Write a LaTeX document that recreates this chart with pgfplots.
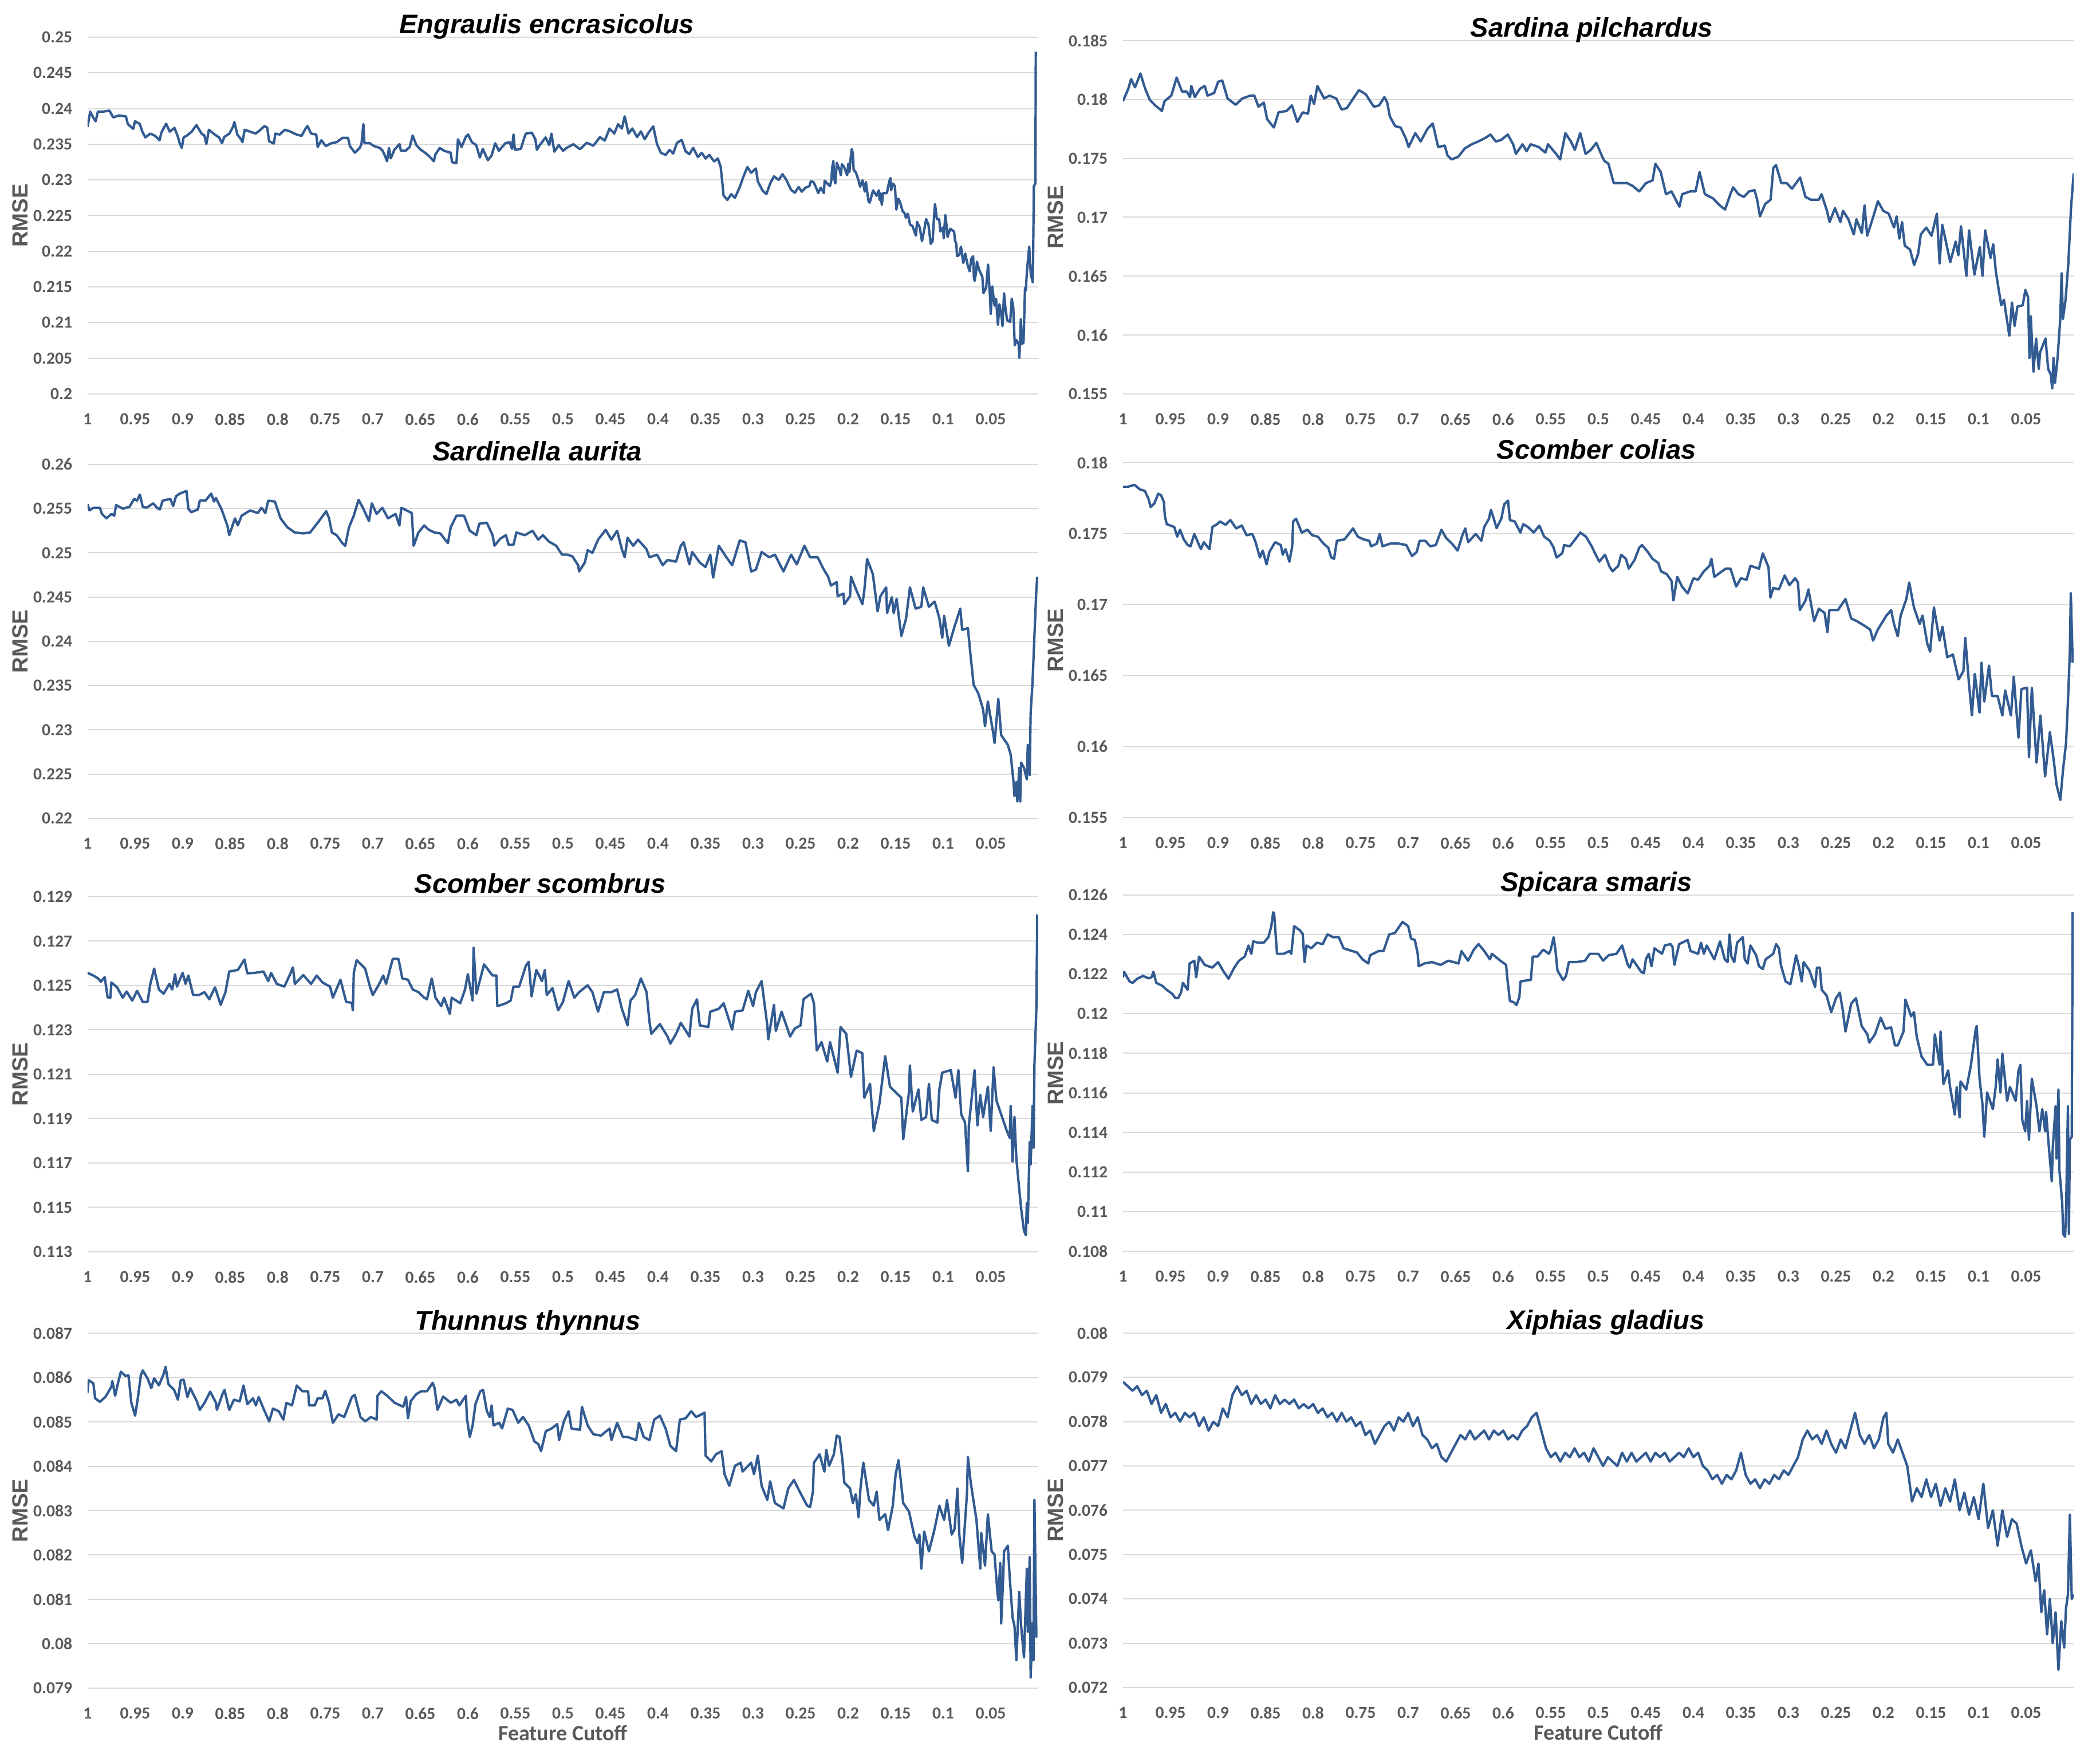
\documentclass[border=0pt]{standalone}
\usepackage{fontspec}
\setmainfont{Carlito}
\newfontfamily\arialfont{Liberation Sans}
\usepackage{pgfplots}
\pgfplotsset{compat=1.18}

\definecolor{linecol}{RGB}{50,91,146}
\definecolor{tickgray}{RGB}{89,89,89}
\definecolor{gridgray}{RGB}{217,217,217}

\pgfplotsset{
  /pgf/number format/assume math mode=true,
  rline/.style={color=linecol, line width=1.05pt, mark=none, line join=round},
  panel/.style={
    scale only axis, width=415pt, height=155pt, anchor=south west,
    xmin=0, xmax=1, x dir=reverse,
    xtick={1,0.95,0.9,0.85,0.8,0.75,0.7,0.65,0.6,0.55,0.5,0.45,0.4,0.35,0.3,0.25,0.2,0.15,0.1,0.05},
    xticklabels={1,0.95,0.9,0.85,0.8,0.75,0.7,0.65,0.6,0.55,0.5,0.45,0.4,0.35,0.3,0.25,0.2,0.15,0.1,0.05},
    axis line style={draw=none}, tick style={draw=none},
    ymajorgrids, major grid style={gridgray, line width=0.5pt},
    scaled y ticks=false,
    yticklabel style={/pgf/number format/fixed, /pgf/number format/precision=3},
    ticklabel style={font=\bfseries\fontsize{7.4}{8}\selectfont, text=tickgray},
    yticklabel shift=3.2pt, xticklabel shift=5.1pt,
    ylabel={RMSE},
    ylabel style={font=\arialfont\bfseries\fontsize{9.6}{11}\selectfont, text=tickgray,
      at={(axis description cs:-0.0711,0.5)}, anchor=center},
    every axis title shift=0pt,
    title style={font=\arialfont\bfseries\itshape\fontsize{11.75}{13}\selectfont,
      anchor=base, yshift=1.5pt},
    xlabel style={font=\bfseries\fontsize{9.5}{11}\selectfont, text=tickgray,
      at={(axis description cs:0.5,0)}, anchor=center, yshift=-19.5pt},
  },
}

\begin{document}
\begin{tikzpicture}
\fill[white] (0,0) rectangle (916.75pt,765.75pt);

% Engraulis encrasicolus
\begin{axis}[panel, at={(38.25pt,593.75pt)}, height=155.75pt,
  ymin=0.2, ymax=0.25,
  ytick={0.2,0.205,0.21,0.215,0.22,0.225,0.23,0.235,0.24,0.245,0.25},
  title={Engraulis encrasicolus}, title style={at={(axis description cs:0.483,1)}}]
\addplot[rline] coordinates {
(1.000,0.23743)(0.9973,0.23957)(0.9931,0.23850)(0.9915,0.23822)(0.9892,0.23957)(0.9839,0.23957)(0.9769,0.23970)(0.9731,0.23876)(0.9673,0.23903)(0.9597,0.23890)(0.9577,0.23783)(0.9520,0.23716)(0.9501,0.23823)(0.9451,0.23783)(0.9424,0.23676)(0.9393,0.23596)(0.9339,0.23649)(0.9289,0.23617)(0.9243,0.23555)(0.9224,0.23663)(0.9174,0.23788)(0.9136,0.23676)(0.9086,0.23729)(0.9051,0.23609)(0.9032,0.23515)(0.9009,0.23448)(0.8990,0.23596)(0.8955,0.23622)(0.8905,0.23676)(0.8855,0.23769)(0.8801,0.23649)(0.8771,0.23622)(0.8751,0.23502)(0.8724,0.23703)(0.8663,0.23636)(0.8617,0.23596)(0.8586,0.23515)(0.8563,0.23601)(0.8509,0.23649)(0.8471,0.23743)(0.8456,0.23810)(0.8425,0.23636)(0.8386,0.23569)(0.8371,0.23529)(0.8348,0.23703)(0.8290,0.23676)(0.8233,0.23649)(0.8194,0.23689)(0.8137,0.23756)(0.8110,0.23729)(0.8091,0.23542)(0.8041,0.23510)(0.8025,0.23649)(0.7979,0.23636)(0.7925,0.23703)(0.7864,0.23676)(0.7802,0.23636)(0.7749,0.23617)(0.7703,0.23729)(0.7687,0.23756)(0.7649,0.23649)(0.7595,0.23636)(0.7580,0.23462)(0.7541,0.23556)(0.7495,0.23475)(0.7434,0.23515)(0.7380,0.23529)(0.7318,0.23590)(0.7261,0.23590)(0.7241,0.23475)(0.7188,0.23381)(0.7138,0.23448)(0.7119,0.23502)(0.7099,0.23783)(0.7088,0.23515)(0.7034,0.23515)(0.6988,0.23475)(0.6926,0.23448)(0.6896,0.23408)(0.6869,0.23328)(0.6850,0.23261)(0.6830,0.23448)(0.6811,0.23301)(0.6773,0.23422)(0.6719,0.23502)(0.6704,0.23408)(0.6657,0.23408)(0.6611,0.23462)(0.6581,0.23622)(0.6542,0.23488)(0.6496,0.23422)(0.6450,0.23381)(0.6404,0.23328)(0.6358,0.23261)(0.6342,0.23355)(0.6296,0.23448)(0.6250,0.23408)(0.6181,0.23381)(0.6166,0.23248)(0.6120,0.23234)(0.6104,0.23569)(0.6066,0.23462)(0.6020,0.23609)(0.5997,0.23636)(0.5958,0.23529)(0.5912,0.23488)(0.5874,0.23314)(0.5843,0.23435)(0.5789,0.23275)(0.5751,0.23341)(0.5712,0.23515)(0.5674,0.23408)(0.5605,0.23515)(0.5559,0.23529)(0.5536,0.23435)(0.5520,0.23636)(0.5505,0.23422)(0.5443,0.23435)(0.5405,0.23596)(0.5390,0.23649)(0.5328,0.23663)(0.5290,0.23569)(0.5274,0.23422)(0.5244,0.23488)(0.5182,0.23596)(0.5144,0.23488)(0.5121,0.23649)(0.5090,0.23395)(0.5044,0.23488)(0.4998,0.23408)
(0.496,0.2345)(0.489,0.2350)(0.482,0.2343)(0.475,0.2352)(0.468,0.2348)(0.461,0.2360)(0.456,0.2355)(0.451,0.2372)(0.446,0.2365)(0.442,0.2378)(0.438,0.2372)(0.435,0.2389)(0.431,0.2365)(0.427,0.2372)(0.422,0.2360)(0.418,0.2368)(0.414,0.2357)(0.410,0.2366)(0.405,0.2375)(0.401,0.2350)(0.397,0.2338)(0.392,0.2335)(0.388,0.2342)(0.384,0.2337)(0.380,0.2352)(0.375,0.2356)(0.371,0.2340)(0.367,0.2336)(0.363,0.2345)(0.358,0.2332)(0.354,0.2338)(0.350,0.2330)(0.346,0.2335)(0.341,0.2326)(0.337,0.2330)(0.334,0.2318)(0.331,0.2278)(0.327,0.2272)(0.323,0.2280)(0.319,0.2275)(0.314,0.2290)(0.310,0.2305)(0.306,0.2318)(0.302,0.2310)(0.297,0.2316)(0.295,0.2298)(0.290,0.2285)(0.286,0.2280)(0.282,0.2295)(0.278,0.2305)(0.273,0.2300)(0.269,0.2308)(0.265,0.2300)(0.260,0.2286)(0.256,0.2282)(0.252,0.2290)
(0.2488,0.22835)(0.2448,0.22892)(0.2408,0.22912)(0.2392,0.22981)(0.2363,0.22969)(0.2331,0.22873)(0.2315,0.22815)(0.2287,0.22892)(0.2255,0.22815)(0.2247,0.22989)(0.2219,0.22950)(0.2191,0.22912)(0.2177,0.22989)(0.2167,0.23173)(0.2155,0.23265)(0.2147,0.23027)(0.2135,0.22950)(0.2119,0.23238)(0.2090,0.23142)(0.2076,0.23065)(0.2066,0.23219)(0.2042,0.23181)(0.2010,0.23065)(0.1998,0.23227)(0.1986,0.23112)(0.1974,0.23296)(0.1962,0.23431)(0.1950,0.23373)(0.1942,0.23142)(0.1918,0.23104)(0.1889,0.22988)(0.1874,0.22904)(0.1849,0.22996)(0.1825,0.22835)(0.1813,0.22969)(0.1785,0.22700)(0.1773,0.22681)(0.1737,0.22854)(0.1701,0.22777)(0.1677,0.22854)(0.1669,0.22719)(0.1661,0.22815)(0.1645,0.22650)(0.1633,0.22815)(0.1592,0.22815)(0.1572,0.22950)(0.1556,0.23027)(0.1548,0.22854)(0.1528,0.22950)(0.1508,0.22912)(0.1492,0.22585)(0.1472,0.22738)(0.1452,0.22681)(0.1428,0.22566)(0.1404,0.22527)(0.1392,0.22469)(0.1372,0.22527)(0.1348,0.22373)(0.1323,0.22354)(0.1287,0.22220)(0.1275,0.22412)(0.1247,0.22335)(0.1223,0.22142)(0.1203,0.22277)(0.1179,0.22450)(0.1155,0.22373)(0.1131,0.22104)(0.1111,0.22142)(0.1095,0.22508)(0.1086,0.22662)(0.1066,0.22450)(0.1042,0.22450)(0.1030,0.22277)(0.1002,0.22335)(0.0994,0.22181)(0.0978,0.22508)(0.0962,0.22335)(0.0954,0.22200)(0.0926,0.22316)(0.0886,0.22277)(0.0874,0.22142)(0.0862,0.22104)(0.0854,0.21931)(0.0830,0.21950)(0.0813,0.22065)(0.0789,0.21835)(0.0769,0.21969)(0.0741,0.21796)(0.0721,0.21719)(0.0705,0.21892)(0.0685,0.21931)(0.0677,0.21642)(0.0669,0.21584)(0.0653,0.21719)(0.0645,0.21854)(0.0621,0.21738)(0.0588,0.21642)(0.0576,0.21412)(0.0548,0.21488)(0.0528,0.21815)(0.0508,0.21373)(0.0500,0.21123)(0.0484,0.21508)(0.0460,0.21239)(0.0444,0.21335)(0.0424,0.20969)(0.0408,0.21258)(0.0384,0.21066)(0.0376,0.20950)(0.0360,0.21412)(0.0343,0.21181)(0.0327,0.21027)(0.0311,0.21027)(0.0295,0.21008)(0.0279,0.21335)(0.0263,0.21219)(0.0247,0.20681)(0.0231,0.20758)(0.0207,0.20700)(0.0199,0.20508)(0.0183,0.21046)(0.0171,0.20700)(0.0155,0.20719)(0.0139,0.21488)(0.0131,0.21450)(0.0119,0.21719)(0.0095,0.22065)(0.0079,0.21681)(0.0058,0.21565)(0.0054,0.21912)(0.0046,0.22912)(0.0030,0.22950)(0.0026,0.24796)
};
\end{axis}

% Sardina pilchardus
\begin{axis}[panel, at={(490.25pt,593.75pt)}, height=154.25pt,
  ymin=0.155, ymax=0.185,
  ytick={0.155,0.16,0.165,0.17,0.175,0.18,0.185},
  title={Sardina pilchardus}, title style={at={(axis description cs:0.493,1)}}]
\addplot[rline] coordinates {
(1.0000,0.17986)(0.9944,0.18092)(0.9915,0.18174)(0.9873,0.18104)(0.9817,0.18221)(0.9767,0.18092)(0.9718,0.17997)(0.9661,0.17950)(0.9591,0.17903)(0.9563,0.17986)(0.9492,0.18033)(0.9436,0.18186)(0.9379,0.18068)(0.9330,0.18068)(0.9295,0.18021)(0.9281,0.18115)(0.9245,0.18021)(0.9189,0.18092)(0.9140,0.18115)(0.9111,0.18033)(0.9041,0.18056)(0.8999,0.18151)(0.8956,0.18162)(0.8900,0.18009)(0.8815,0.17955)(0.8745,0.18009)(0.8660,0.18033)(0.8618,0.18033)(0.8575,0.17939)(0.8519,0.17974)(0.8484,0.17833)(0.8413,0.17762)(0.8364,0.17891)(0.8279,0.17903)(0.8223,0.17950)(0.8166,0.17809)(0.8110,0.17891)(0.8054,0.17880)(0.8025,0.18033)(0.7990,0.17962)(0.7955,0.18115)(0.7884,0.18009)(0.7828,0.18033)(0.7757,0.18009)(0.7701,0.17915)(0.7645,0.17927)(0.7588,0.17997)(0.7518,0.18080)(0.7447,0.18045)(0.7362,0.17939)(0.7306,0.17950)(0.7250,0.18021)(0.7221,0.17974)(0.7193,0.17856)(0.7137,0.17774)(0.7080,0.17762)(0.7024,0.17668)(0.6996,0.17597)(0.6925,0.17715)(0.6869,0.17644)(0.6798,0.17750)(0.6742,0.17797)(0.6685,0.17597)(0.6615,0.17609)(0.6587,0.17526)(0.6544,0.17491)(0.6474,0.17514)(0.6404,0.17585)(0.6333,0.17620)(0.6262,0.17644)(0.6178,0.17679)(0.6135,0.17703)(0.6079,0.17644)(0.6023,0.17656)(0.5952,0.17703)(0.5896,0.17620)(0.5867,0.17538)(0.5797,0.17620)(0.5755,0.17561)(0.5712,0.17620)(0.5628,0.17597)(0.5557,0.17550)(0.5529,0.17620)(0.5444,0.17538)(0.5402,0.17491)(0.5346,0.17715)(0.5289,0.17644)(0.5247,0.17573)(0.5190,0.17715)(0.5134,0.17538)(0.5078,0.17573)(0.5021,0.17632)(0.4965,0.17526)(0.4937,0.17479)(0.4894,0.17455)(0.4838,0.17290)(0.4781,0.17290)(0.4697,0.17290)(0.4640,0.17267)(0.4570,0.17220)(0.4499,0.17290)(0.4429,0.17314)(0.4400,0.17455)(0.4344,0.17385)(0.4288,0.17196)(0.4231,0.17220)(0.4147,0.17090)(0.4118,0.17196)(0.4034,0.17220)(0.3977,0.17220)(0.3935,0.17385)(0.3879,0.17196)(0.3794,0.17161)(0.3724,0.17102)(0.3667,0.17066)(0.3611,0.17196)(0.3582,0.17255)(0.3526,0.17196)(0.3470,0.17173)(0.3413,0.17220)(0.3357,0.17231)(0.3329,0.17149)(0.3300,0.17008)(0.3244,0.17114)(0.3188,0.17149)(0.3159,0.17420)(0.3131,0.17444)(0.3075,0.17290)(0.3018,0.17290)(0.2962,0.17243)(0.2877,0.17338)(0.2821,0.17173)(0.2764,0.17149)(0.2680,0.17149)(0.2652,0.17196)(0.2595,0.17055)(0.2567,0.16960)(0.2511,0.17078)(0.2454,0.16960)(0.2426,0.17055)(0.2370,0.16984)(0.2313,0.16854)(0.2285,0.16984)(0.2228,0.16866)(0.2200,0.17102)(0.2172,0.16843)(0.2116,0.16984)(0.2059,0.17137)(0.2003,0.17055)(0.1946,0.17031)(0.1890,0.16913)(0.1862,0.17008)(0.1834,0.16819)(0.1805,0.16960)(0.1777,0.16760)(0.1721,0.16725)(0.1678,0.16595)(0.1636,0.16689)(0.1608,0.16854)(0.1551,0.16913)(0.1495,0.16843)(0.1439,0.17031)(0.1410,0.16607)(0.1382,0.16937)(0.1326,0.16725)(0.1298,0.16619)(0.1241,0.16795)(0.1213,0.16678)(0.1185,0.16925)(0.1128,0.16501)(0.1100,0.16890)(0.1044,0.16513)(0.0987,0.16748)(0.0959,0.16501)(0.0931,0.16890)(0.0874,0.16654)(0.0846,0.16772)(0.0818,0.16536)(0.0790,0.16395)(0.0762,0.16253)(0.0733,0.16300)(0.0677,0.15994)(0.0649,0.16277)(0.0621,0.16077)(0.0592,0.16242)(0.0536,0.16253)(0.0508,0.16383)(0.0480,0.16324)(0.0465,0.15806)(0.0451,0.16159)(0.0423,0.15688)(0.0395,0.15971)(0.0367,0.15711)(0.0353,0.15853)(0.0296,0.15971)(0.0268,0.15711)(0.0240,0.15664)(0.0226,0.15546)(0.0212,0.15806)(0.0197,0.15593)(0.0169,0.15806)(0.0141,0.16136)(0.0127,0.16524)(0.0113,0.16136)(0.0085,0.16301)(0.0056,0.16607)(0.0028,0.17078)(0.0000,0.17373)
};
\end{axis}

% Sardinella aurita
\begin{axis}[panel, at={(38.25pt,408.5pt)}, height=154.5pt,
  ymin=0.22, ymax=0.26,
  ytick={0.22,0.225,0.23,0.235,0.24,0.245,0.25,0.255,0.26},
  title={Sardinella aurita}, title style={at={(axis description cs:0.473,1)}}]
\addplot[rline] coordinates {
(1.000,0.2555)(0.998,0.2548)(0.994,0.2551)(0.987,0.2551)(0.985,0.2544)(0.980,0.2539)(0.975,0.2544)(0.972,0.2542)(0.970,0.2554)(0.963,0.2550)(0.956,0.2552)(0.951,0.2561)(0.948,0.2559)(0.945,0.2566)(0.942,0.2552)(0.938,0.2551)(0.931,0.2556)(0.927,0.2551)(0.924,0.2549)(0.921,0.2559)(0.913,0.2561)(0.910,0.2553)(0.907,0.2564)(0.903,0.2567)(0.896,0.2570)(0.894,0.2550)(0.891,0.2546)(0.884,0.2549)(0.882,0.2559)(0.876,0.2559)(0.870,0.2567)(0.867,0.2558)(0.865,0.2562)(0.859,0.2549)(0.853,0.2531)(0.851,0.2520)(0.845,0.2539)(0.842,0.2531)(0.838,0.2542)(0.829,0.2548)(0.821,0.2545)(0.817,0.2551)(0.813,0.2545)(0.810,0.2559)(0.803,0.2558)(0.797,0.2539)(0.790,0.2529)(0.782,0.2523)(0.773,0.2522)(0.766,0.2523)(0.758,0.2534)(0.749,0.2547)(0.746,0.2539)(0.743,0.2523)(0.738,0.2520)(0.732,0.2511)(0.729,0.2508)(0.725,0.2529)(0.720,0.2542)(0.715,0.2560)(0.710,0.2550)(0.704,0.2536)(0.701,0.2556)(0.696,0.2544)(0.690,0.2551)(0.684,0.2539)(0.676,0.2544)(0.672,0.2531)(0.670,0.2551)(0.659,0.2545)(0.657,0.2508)(0.652,0.2523)(0.646,0.2531)(0.641,0.2526)(0.635,0.2523)(0.629,0.2522)(0.624,0.2515)(0.621,0.2511)(0.618,0.2529)(0.612,0.2542)(0.604,0.2542)(0.598,0.2525)(0.591,0.2520)(0.588,0.2533)(0.580,0.2534)(0.574,0.2520)(0.572,0.2508)(0.566,0.2516)(0.560,0.2520)(0.557,0.2509)(0.552,0.2509)(0.549,0.2523)(0.540,0.2520)(0.532,0.2525)(0.526,0.2515)(0.521,0.2520)(0.515,0.2513)(0.507,0.2508)(0.501,0.2498)(0.495,0.2498)(0.490,0.2496)(0.484,0.2486)(0.483,0.2479)(0.477,0.2489)(0.474,0.2503)(0.469,0.2500)(0.463,0.2515)(0.455,0.2526)(0.449,0.2515)(0.443,0.2525)(0.438,0.2504)(0.435,0.2495)(0.432,0.2517)(0.426,0.2508)(0.421,0.2515)(0.412,0.2504)(0.409,0.2495)(0.401,0.2498)(0.395,0.2486)(0.390,0.2492)(0.381,0.2490)(0.376,0.2508)(0.373,0.2512)(0.367,0.2487)(0.364,0.2501)(0.356,0.2489)(0.350,0.2484)(0.345,0.2498)(0.342,0.2472)(0.336,0.2508)(0.328,0.2495)(0.322,0.2486)(0.314,0.2514)(0.308,0.2512)(0.302,0.2479)(0.297,0.2481)(0.291,0.2501)(0.283,0.2495)(0.277,0.2498)(0.268,0.2479)(0.260,0.2498)(0.254,0.2487)(0.246,0.2508)(0.240,0.2495)(0.232,0.2495)(0.226,0.2482)(0.221,0.2473)(0.218,0.2463)(0.212,0.2467)(0.211,0.2451)(0.205,0.2454)(0.204,0.2442)(0.198,0.2451)(0.197,0.2473)(0.191,0.2457)(0.185,0.2442)(0.183,0.2457)(0.180,0.2493)(0.174,0.2476)(0.169,0.2434)(0.166,0.2451)(0.160,0.2461)(0.159,0.2432)(0.154,0.2450)(0.152,0.2432)(0.149,0.2448)(0.144,0.2406)(0.139,0.2426)(0.135,0.2461)(0.129,0.2437)(0.123,0.2439)(0.121,0.2461)(0.115,0.2439)(0.109,0.2445)(0.104,0.2426)(0.101,0.2404)(0.099,0.2429)(0.094,0.2395)(0.088,0.2417)(0.082,0.2437)(0.080,0.2413)(0.074,0.2415)(0.071,0.2382)(0.068,0.2351)(0.063,0.2341)(0.058,0.2323)(0.056,0.2304)(0.053,0.2332)(0.047,0.2294)(0.046,0.2285)(0.042,0.2335)(0.039,0.2294)(0.032,0.2283)(0.029,0.2272)(0.026,0.2241)(0.025,0.2225)(0.023,0.2241)(0.022,0.2219)(0.020,0.2257)(0.019,0.2219)(0.018,0.2263)(0.015,0.2257)(0.012,0.2244)(0.011,0.2283)(0.009,0.2249)(0.008,0.2319)(0.006,0.2354)(0.004,0.2407)(0.002,0.2458)(0.001,0.2473)
};
\end{axis}

% Scomber colias
\begin{axis}[panel, at={(490.25pt,408.75pt)}, height=155pt,
  ymin=0.155, ymax=0.18,
  ytick={0.155,0.16,0.165,0.17,0.175,0.18},
  title={Scomber colias}, title style={at={(axis description cs:0.498,1)}}]
\addplot[rline] coordinates {
(1.000,0.17830)(0.995,0.17830)(0.988,0.17844)(0.982,0.17811)(0.977,0.17801)(0.973,0.17742)(0.971,0.17688)(0.967,0.17713)(0.963,0.17781)(0.960,0.17772)(0.957,0.17723)(0.956,0.17625)(0.954,0.17567)(0.946,0.17547)(0.943,0.17479)(0.940,0.17528)(0.936,0.17459)(0.932,0.17420)(0.929,0.17411)(0.925,0.17498)(0.920,0.17420)(0.918,0.17391)(0.915,0.17440)(0.909,0.17391)(0.906,0.17547)(0.901,0.17567)(0.898,0.17586)(0.892,0.17563)(0.887,0.17596)(0.881,0.17537)(0.875,0.17557)(0.870,0.17489)(0.864,0.17498)(0.861,0.17450)(0.856,0.17332)(0.853,0.17381)(0.849,0.17284)(0.846,0.17372)(0.840,0.17440)(0.834,0.17420)(0.832,0.17352)(0.829,0.17391)(0.825,0.17303)(0.822,0.17411)(0.821,0.17586)(0.818,0.17606)(0.812,0.17508)(0.806,0.17528)(0.801,0.17489)(0.795,0.17479)(0.789,0.17430)(0.784,0.17401)(0.781,0.17332)(0.778,0.17323)(0.775,0.17450)(0.767,0.17460)(0.758,0.17537)(0.753,0.17479)(0.747,0.17460)(0.741,0.17450)(0.739,0.17411)(0.733,0.17430)(0.730,0.17498)(0.727,0.17411)(0.719,0.17430)(0.710,0.17430)(0.702,0.17420)(0.696,0.17342)(0.691,0.17372)(0.688,0.17450)(0.682,0.17450)(0.677,0.17411)(0.671,0.17420)(0.665,0.17528)(0.660,0.17469)(0.654,0.17430)(0.648,0.17381)(0.643,0.17489)(0.640,0.17537)(0.637,0.17440)(0.629,0.17498)(0.623,0.17450)(0.620,0.17548)(0.615,0.17606)(0.613,0.17668)(0.610,0.17607)(0.607,0.17539)(0.602,0.17606)(0.599,0.17707)(0.595,0.17733)(0.593,0.17596)(0.588,0.17586)(0.582,0.17508)(0.579,0.17567)(0.574,0.17547)(0.568,0.17508)(0.562,0.17557)(0.557,0.17479)(0.551,0.17450)(0.547,0.17401)(0.544,0.17332)(0.538,0.17362)(0.536,0.17420)(0.530,0.17411)(0.521,0.17489)(0.519,0.17508)(0.513,0.17479)(0.507,0.17411)(0.502,0.17342)(0.499,0.17303)(0.493,0.17352)(0.488,0.17265)(0.485,0.17235)(0.479,0.17274)(0.476,0.17352)(0.471,0.17323)(0.468,0.17254)(0.462,0.17313)(0.457,0.17401)(0.454,0.17420)(0.448,0.17372)(0.443,0.17323)(0.437,0.17294)(0.434,0.17235)(0.428,0.17215)(0.423,0.17167)(0.421,0.17030)(0.417,0.17196)(0.412,0.17128)(0.406,0.17079)(0.400,0.17186)(0.395,0.17176)(0.389,0.17235)(0.383,0.17274)(0.381,0.17323)(0.378,0.17196)(0.372,0.17225)(0.366,0.17254)(0.361,0.17254)(0.355,0.17128)(0.350,0.17186)(0.344,0.17176)(0.340,0.17274)(0.331,0.17254)(0.327,0.17362)(0.321,0.17264)(0.319,0.17050)(0.316,0.17118)(0.310,0.17108)(0.304,0.17206)(0.299,0.17138)(0.293,0.17186)(0.290,0.17157)(0.288,0.16962)(0.282,0.17030)(0.279,0.17108)(0.273,0.16884)(0.268,0.16972)(0.262,0.16942)(0.259,0.16806)(0.257,0.16962)(0.248,0.16962)(0.240,0.17040)(0.234,0.16903)(0.228,0.16884)(0.223,0.16864)(0.214,0.16825)(0.211,0.16747)(0.206,0.16825)(0.197,0.16923)(0.192,0.16962)(0.189,0.16864)(0.185,0.16777)(0.182,0.16923)(0.176,0.17040)(0.173,0.17157)(0.168,0.16981)(0.162,0.16864)(0.159,0.16923)(0.154,0.16727)(0.151,0.16669)(0.147,0.16981)(0.141,0.16747)(0.138,0.16845)(0.133,0.16630)(0.127,0.16649)(0.121,0.16474)(0.116,0.16532)(0.114,0.16767)(0.110,0.16435)(0.107,0.16220)(0.104,0.16513)(0.099,0.16240)(0.097,0.16592)(0.094,0.16318)(0.089,0.16571)(0.086,0.16357)(0.080,0.16357)(0.075,0.16220)(0.072,0.16396)(0.066,0.16220)(0.063,0.16493)(0.058,0.16064)(0.055,0.16406)(0.049,0.16415)(0.047,0.15927)(0.044,0.16415)(0.039,0.15888)(0.035,0.16220)(0.030,0.15791)(0.025,0.16103)(0.021,0.15908)(0.018,0.15732)(0.014,0.15625)(0.011,0.15849)(0.008,0.16025)(0.006,0.16318)(0.004,0.16669)(0.003,0.17080)(0.001,0.16591)
};
\end{axis}

% Scomber scombrus
\begin{axis}[panel, at={(38.25pt,219.25pt)}, height=155pt,
  ymin=0.113, ymax=0.129,
  ytick={0.113,0.115,0.117,0.119,0.121,0.123,0.125,0.127,0.129},
  title={Scomber scombrus}, title style={at={(axis description cs:0.476,1)}}]
\addplot[rline] coordinates {
(1.000,0.12557)(0.994,0.12545)(0.989,0.12532)(0.986,0.12517)(0.982,0.12538)(0.979,0.12447)(0.976,0.12445)(0.975,0.12514)(0.969,0.12492)(0.963,0.12445)(0.959,0.12473)(0.953,0.12432)(0.948,0.12476)(0.942,0.12426)(0.937,0.12426)(0.934,0.12507)(0.930,0.12576)(0.925,0.12482)(0.920,0.12463)(0.914,0.12507)(0.911,0.12482)(0.908,0.12551)(0.906,0.12495)(0.900,0.12557)(0.897,0.12507)(0.894,0.12545)(0.889,0.12457)(0.883,0.12457)(0.877,0.12470)(0.872,0.12438)(0.866,0.12492)(0.860,0.12413)(0.855,0.12470)(0.851,0.12563)(0.842,0.12570)(0.835,0.12617)(0.832,0.12555)(0.824,0.12557)(0.815,0.12563)(0.810,0.12520)(0.807,0.12557)(0.801,0.12507)(0.793,0.12495)(0.787,0.12551)(0.784,0.12582)(0.782,0.12507)(0.773,0.12547)(0.765,0.12507)(0.759,0.12545)(0.753,0.12514)(0.745,0.12495)(0.742,0.12445)(0.734,0.12526)(0.728,0.12426)(0.722,0.12422)(0.721,0.12388)(0.720,0.12557)(0.717,0.12614)(0.708,0.12576)(0.703,0.12495)(0.700,0.12457)(0.694,0.12501)(0.689,0.12545)(0.686,0.12507)(0.679,0.12620)(0.673,0.12620)(0.669,0.12532)(0.663,0.12526)(0.658,0.12482)(0.652,0.12470)(0.646,0.12445)(0.643,0.12438)(0.638,0.12532)(0.634,0.12445)(0.628,0.12407)(0.625,0.12445)(0.619,0.12372)(0.617,0.12445)(0.608,0.12420)(0.603,0.12482)(0.600,0.12551)(0.595,0.12432)(0.594,0.12670)(0.591,0.12463)(0.586,0.12545)(0.583,0.12595)(0.574,0.12545)(0.570,0.12545)(0.569,0.12407)(0.560,0.12420)(0.555,0.12432)(0.552,0.12495)(0.546,0.12495)(0.539,0.12589)(0.536,0.12607)(0.533,0.12451)(0.528,0.12570)(0.522,0.12520)(0.519,0.12570)(0.517,0.12457)(0.511,0.12488)(0.505,0.12388)(0.500,0.12426)(0.494,0.12520)(0.488,0.12445)(0.483,0.12470)(0.474,0.12501)(0.469,0.12470)(0.463,0.12382)(0.457,0.12470)(0.449,0.12470)(0.443,0.12482)(0.438,0.12395)(0.432,0.12320)(0.429,0.12432)(0.424,0.12457)(0.418,0.12532)(0.412,0.12470)(0.409,0.12338)(0.407,0.12282)(0.398,0.12326)(0.390,0.12270)(0.387,0.12238)(0.381,0.12282)(0.376,0.12332)(0.367,0.12270)(0.364,0.12395)(0.359,0.12438)(0.356,0.12320)(0.347,0.12313)(0.345,0.12382)(0.336,0.12395)(0.331,0.12420)(0.322,0.12301)(0.319,0.12382)(0.311,0.12388)(0.305,0.12476)(0.300,0.12407)(0.297,0.12470)(0.291,0.12520)(0.285,0.12320)(0.284,0.12257)(0.278,0.12413)(0.276,0.12295)(0.270,0.12382)(0.261,0.12270)(0.256,0.12307)(0.250,0.12320)(0.247,0.12438)(0.239,0.12463)(0.236,0.12420)(0.233,0.12207)(0.228,0.12245)(0.222,0.12157)(0.219,0.12245)(0.211,0.12107)(0.208,0.12313)(0.202,0.12282)(0.197,0.12088)(0.191,0.12207)(0.185,0.12195)(0.183,0.11994)(0.177,0.12057)(0.173,0.11844)(0.167,0.11969)(0.161,0.12182)(0.156,0.12044)(0.150,0.12019)(0.144,0.11994)(0.142,0.11807)(0.136,0.12019)(0.135,0.12138)(0.132,0.11932)(0.126,0.12032)(0.123,0.11894)(0.118,0.11907)(0.115,0.12057)(0.112,0.11894)(0.106,0.11882)(0.104,0.12032)(0.101,0.12107)(0.092,0.12119)(0.087,0.11994)(0.084,0.12119)(0.081,0.11919)(0.077,0.11882)(0.074,0.11663)(0.073,0.11869)(0.067,0.12119)(0.064,0.11869)(0.061,0.12007)(0.058,0.11907)(0.053,0.12044)(0.050,0.11844)(0.047,0.12132)(0.044,0.11982)(0.039,0.11919)(0.033,0.11844)(0.030,0.11813)(0.029,0.11957)(0.027,0.11707)(0.025,0.11907)(0.023,0.11719)(0.020,0.11582)(0.018,0.11494)(0.015,0.11394)(0.013,0.11375)(0.012,0.11519)(0.011,0.11431)(0.009,0.11794)(0.008,0.11694)(0.006,0.11957)(0.005,0.11769)(0.004,0.12145)(0.002,0.12395)(0.001,0.12820)
};
\end{axis}

% Spicara smaris
\begin{axis}[panel, at={(490.25pt,219.5pt)}, height=155.5pt,
  ymin=0.108, ymax=0.126,
  ytick={0.108,0.11,0.112,0.114,0.116,0.118,0.12,0.122,0.124,0.126},
  title={Spicara smaris}, title style={at={(axis description cs:0.498,1)}}]
\addplot[rline] coordinates {
(1.000,0.12184)(0.999,0.12212)(0.993,0.12163)(0.990,0.12156)(0.985,0.12177)(0.979,0.12191)(0.973,0.12179)(0.970,0.12184)(0.968,0.12212)(0.965,0.12156)(0.959,0.12142)(0.954,0.12121)(0.948,0.12100)(0.945,0.12079)(0.942,0.12079)(0.939,0.12107)(0.937,0.12156)(0.932,0.12121)(0.930,0.12254)(0.925,0.12268)(0.923,0.12184)(0.920,0.12289)(0.914,0.12247)(0.906,0.12233)(0.900,0.12261)(0.894,0.12212)(0.889,0.12177)(0.883,0.12233)(0.878,0.12268)(0.872,0.12289)(0.868,0.12345)(0.865,0.12303)(0.863,0.12366)(0.858,0.12359)(0.852,0.12359)(0.847,0.12387)(0.844,0.12443)(0.842,0.12513)(0.841,0.12506)(0.838,0.12303)(0.831,0.12303)(0.825,0.12317)(0.823,0.12303)(0.820,0.12443)(0.814,0.12422)(0.811,0.12404)(0.809,0.12261)(0.807,0.12345)(0.802,0.12331)(0.796,0.12359)(0.790,0.12352)(0.785,0.12401)(0.779,0.12387)(0.773,0.12387)(0.768,0.12331)(0.759,0.12317)(0.754,0.12310)(0.748,0.12275)(0.742,0.12254)(0.740,0.12296)(0.731,0.12317)(0.726,0.12317)(0.720,0.12401)(0.714,0.12408)(0.709,0.12443)(0.706,0.12464)(0.700,0.12443)(0.697,0.12380)(0.693,0.12373)(0.690,0.12303)(0.689,0.12240)(0.683,0.12254)(0.675,0.12261)(0.666,0.12247)(0.658,0.12268)(0.652,0.12261)(0.647,0.12254)(0.644,0.12317)(0.637,0.12268)(0.631,0.12324)(0.626,0.12352)(0.620,0.12317)(0.614,0.12275)(0.612,0.12303)(0.603,0.12268)(0.597,0.12247)(0.596,0.12191)(0.593,0.12065)(0.589,0.12058)(0.586,0.12044)(0.583,0.12086)(0.582,0.12163)(0.574,0.12170)(0.571,0.12170)(0.569,0.12289)(0.564,0.12289)(0.558,0.12324)(0.552,0.12303)(0.550,0.12324)(0.547,0.12387)(0.545,0.12317)(0.543,0.12219)(0.537,0.12170)(0.534,0.12191)(0.531,0.12261)(0.523,0.12261)(0.514,0.12268)(0.509,0.12303)(0.500,0.12303)(0.495,0.12268)(0.489,0.12296)(0.481,0.12303)(0.475,0.12345)(0.469,0.12247)(0.467,0.12233)(0.464,0.12275)(0.455,0.12212)(0.452,0.12205)(0.450,0.12275)(0.447,0.12303)(0.444,0.12240)(0.441,0.12331)(0.433,0.12303)(0.430,0.12345)(0.424,0.12352)(0.422,0.12338)(0.420,0.12247)(0.415,0.12352)(0.406,0.12373)(0.403,0.12317)(0.395,0.12303)(0.392,0.12359)(0.389,0.12303)(0.386,0.12345)(0.378,0.12275)(0.372,0.12366)(0.367,0.12275)(0.364,0.12261)(0.362,0.12401)(0.360,0.12289)(0.357,0.12261)(0.354,0.12359)(0.348,0.12387)(0.346,0.12275)(0.343,0.12254)(0.340,0.12345)(0.334,0.12296)(0.331,0.12240)(0.327,0.12226)(0.324,0.12275)(0.316,0.12303)(0.313,0.12352)(0.310,0.12331)(0.308,0.12247)(0.303,0.12163)(0.298,0.12149)(0.295,0.12219)(0.292,0.12296)(0.289,0.12240)(0.286,0.12163)(0.284,0.12261)(0.278,0.12219)(0.272,0.12135)(0.270,0.12233)(0.267,0.12233)(0.265,0.12121)(0.260,0.12093)(0.255,0.12008)(0.250,0.12079)(0.246,0.12107)(0.243,0.12022)(0.240,0.11910)(0.234,0.12051)(0.229,0.12079)(0.223,0.11938)(0.217,0.11896)(0.215,0.11854)(0.209,0.11896)(0.203,0.11980)(0.198,0.11924)(0.192,0.11931)(0.188,0.11840)(0.185,0.11840)(0.179,0.11910)(0.177,0.12072)(0.171,0.11987)(0.168,0.12008)(0.165,0.11882)(0.160,0.11784)(0.154,0.11742)(0.148,0.11742)(0.146,0.11896)(0.141,0.11742)(0.140,0.11910)(0.137,0.11644)(0.132,0.11714)(0.130,0.11630)(0.125,0.11490)(0.123,0.11630)(0.120,0.11476)(0.119,0.11658)(0.113,0.11616)(0.108,0.11742)(0.103,0.11924)(0.102,0.11938)(0.099,0.11672)(0.096,0.11546)(0.094,0.11378)(0.091,0.11602)(0.085,0.11518)(0.082,0.11630)(0.080,0.11770)(0.077,0.11602)(0.075,0.11798)(0.070,0.11560)(0.067,0.11630)(0.061,0.11560)(0.058,0.11714)(0.056,0.11742)(0.054,0.11462)(0.051,0.11406)(0.049,0.11560)(0.047,0.11364)(0.044,0.11672)(0.039,0.11532)(0.036,0.11406)(0.033,0.11518)(0.030,0.11406)(0.029,0.11504)(0.026,0.11321)(0.023,0.11153)(0.022,0.11321)(0.019,0.11532)(0.018,0.11269)(0.016,0.11616)(0.015,0.11211)(0.012,0.11041)(0.011,0.10887)(0.009,0.10873)(0.008,0.10999)(0.006,0.11532)(0.005,0.10887)(0.004,0.11364)(0.002,0.11378)(0.001,0.12513)
};
\end{axis}

% Thunnus thynnus
\begin{axis}[panel, at={(38.25pt,28.75pt)}, height=155pt,
  ymin=0.079, ymax=0.087,
  ytick={0.079,0.08,0.081,0.082,0.083,0.084,0.085,0.086,0.087},
  title={Thunnus thynnus}, title style={at={(axis description cs:0.463,1)}},
  xlabel={Feature Cutoff}]
\addplot[rline] coordinates {
(1.000,0.08566)(0.999,0.08594)(0.994,0.08587)(0.992,0.08553)(0.987,0.08545)(0.981,0.08557)(0.975,0.08579)(0.974,0.08592)(0.971,0.08559)(0.968,0.08588)(0.965,0.08613)(0.960,0.08603)(0.957,0.08605)(0.954,0.08543)(0.950,0.08514)(0.947,0.08556)(0.944,0.08605)(0.942,0.08616)(0.937,0.08598)(0.933,0.08576)(0.930,0.08598)(0.925,0.08582)(0.920,0.08608)(0.918,0.08624)(0.915,0.08585)(0.909,0.08572)(0.905,0.08550)(0.902,0.08594)(0.899,0.08595)(0.895,0.08556)(0.892,0.08576)(0.885,0.08546)(0.882,0.08527)(0.877,0.08543)(0.871,0.08568)(0.865,0.08543)(0.864,0.08527)(0.858,0.08563)(0.856,0.08572)(0.851,0.08527)(0.846,0.08550)(0.840,0.08546)(0.836,0.08582)(0.832,0.08540)(0.826,0.08553)(0.823,0.08537)(0.820,0.08556)(0.815,0.08530)(0.809,0.08501)(0.805,0.08530)(0.799,0.08524)(0.794,0.08505)(0.791,0.08543)(0.785,0.08537)(0.780,0.08582)(0.774,0.08569)(0.768,0.08569)(0.767,0.08537)(0.761,0.08537)(0.758,0.08553)(0.753,0.08553)(0.750,0.08570)(0.746,0.08543)(0.742,0.08498)(0.736,0.08517)(0.730,0.08511)(0.722,0.08556)(0.719,0.08561)(0.713,0.08511)(0.708,0.08501)(0.702,0.08511)(0.696,0.08505)(0.695,0.08559)(0.691,0.08569)(0.685,0.08559)(0.677,0.08543)(0.668,0.08534)(0.665,0.08556)(0.663,0.08508)(0.660,0.08547)(0.654,0.08563)(0.649,0.08569)(0.643,0.08569)(0.637,0.08588)(0.635,0.08576)(0.632,0.08527)(0.626,0.08557)(0.618,0.08543)(0.612,0.08550)(0.609,0.08537)(0.602,0.08559)(0.601,0.08508)(0.598,0.08466)(0.595,0.08492)(0.592,0.08540)(0.587,0.08569)(0.584,0.08572)(0.580,0.08524)(0.577,0.08511)(0.575,0.08537)(0.573,0.08492)(0.567,0.08498)(0.564,0.08485)(0.558,0.08530)(0.553,0.08527)(0.547,0.08498)(0.542,0.08511)(0.536,0.08492)(0.530,0.08456)(0.526,0.08450)(0.523,0.08434)(0.518,0.08479)(0.512,0.08485)(0.506,0.08495)(0.504,0.08459)(0.499,0.08501)(0.494,0.08524)(0.491,0.08485)(0.482,0.08482)(0.480,0.08534)(0.474,0.08492)(0.468,0.08472)(0.460,0.08469)(0.451,0.08485)(0.449,0.08459)(0.443,0.08498)(0.437,0.08466)(0.432,0.08466)(0.423,0.08459)(0.420,0.08498)(0.415,0.08466)(0.409,0.08459)(0.404,0.08505)(0.398,0.08514)(0.392,0.08485)(0.387,0.08446)(0.381,0.08434)(0.377,0.08505)(0.371,0.08508)(0.365,0.08524)(0.360,0.08511)(0.354,0.08517)(0.351,0.08521)(0.350,0.08424)(0.344,0.08411)(0.339,0.08427)(0.333,0.08434)(0.330,0.08382)(0.325,0.08356)(0.319,0.08401)(0.313,0.08408)(0.311,0.08388)(0.302,0.08408)(0.299,0.08382)(0.295,0.08424)(0.291,0.08356)(0.285,0.08324)(0.282,0.08366)(0.277,0.08317)(0.268,0.08305)(0.263,0.08350)(0.257,0.08369)(0.251,0.08343)(0.243,0.08311)(0.240,0.08308)(0.237,0.08343)(0.236,0.08408)(0.230,0.08427)(0.225,0.08388)(0.223,0.08437)(0.220,0.08401)(0.215,0.08427)(0.212,0.08469)(0.209,0.08466)(0.206,0.08414)(0.204,0.08363)(0.198,0.08350)(0.195,0.08317)(0.192,0.08337)(0.189,0.08285)(0.187,0.08350)(0.184,0.08408)(0.178,0.08324)(0.173,0.08311)(0.170,0.08343)(0.167,0.08279)(0.161,0.08292)(0.158,0.08256)(0.153,0.08311)(0.150,0.08382)(0.147,0.08414)(0.142,0.08317)(0.136,0.08298)(0.130,0.08240)(0.127,0.08227)(0.125,0.08246)(0.123,0.08169)(0.120,0.08253)(0.115,0.08208)(0.109,0.08259)(0.104,0.08311)(0.099,0.08279)(0.096,0.08324)(0.091,0.08246)(0.088,0.08259)(0.085,0.08350)(0.083,0.08246)(0.080,0.08182)(0.075,0.08337)(0.074,0.08421)(0.071,0.08363)(0.065,0.08279)(0.061,0.08169)(0.060,0.08250)(0.056,0.08176)(0.053,0.08292)(0.049,0.08208)(0.046,0.08201)(0.043,0.08117)(0.042,0.08098)(0.040,0.08182)(0.039,0.08046)(0.037,0.08143)(0.036,0.08208)(0.032,0.08221)(0.030,0.08150)(0.027,0.08059)(0.025,0.08040)(0.023,0.07963)(0.020,0.08117)(0.018,0.08040)(0.015,0.07969)(0.012,0.08169)(0.011,0.08027)(0.009,0.08195)(0.008,0.07924)(0.006,0.08046)(0.005,0.07963)(0.004,0.08324)(0.002,0.08014)
};
\end{axis}

% Xiphias gladius
\begin{axis}[panel, at={(490.25pt,29pt)}, height=154.75pt,
  ymin=0.072, ymax=0.08,
  ytick={0.072,0.073,0.074,0.075,0.076,0.077,0.078,0.079,0.08},
  title={Xiphias gladius}, title style={at={(axis description cs:0.508,1)}},
  xlabel={Feature Cutoff}]
\addplot[rline] coordinates {
(1.000,0.0789)(0.995,0.0788)(0.990,0.0787)(0.985,0.0788)(0.980,0.0786)(0.975,0.0787)(0.970,0.0784)(0.965,0.0786)(0.960,0.0782)(0.955,0.0784)(0.950,0.0781)(0.945,0.0782)(0.940,0.0780)(0.935,0.0782)(0.930,0.0781)(0.925,0.0782)(0.920,0.0779)(0.915,0.0781)(0.910,0.0778)(0.905,0.0780)(0.900,0.0779)(0.895,0.0783)(0.890,0.0781)(0.885,0.0786)(0.880,0.0788)(0.875,0.0786)(0.870,0.0787)(0.865,0.0784)(0.860,0.0786)(0.855,0.0784)(0.850,0.0785)(0.845,0.0783)(0.840,0.0786)(0.835,0.0784)(0.830,0.0785)(0.825,0.0784)(0.820,0.0785)(0.815,0.0783)(0.810,0.0784)(0.805,0.0783)(0.800,0.0784)(0.795,0.0782)(0.790,0.0783)(0.785,0.0781)(0.780,0.0782)(0.775,0.0780)(0.770,0.0782)(0.765,0.0780)(0.760,0.0781)(0.755,0.0779)(0.750,0.0780)(0.745,0.0777)(0.740,0.0778)(0.735,0.0775)(0.730,0.0777)(0.725,0.0779)(0.720,0.0780)(0.715,0.0778)(0.710,0.0781)(0.705,0.0780)(0.700,0.0782)(0.695,0.0779)(0.690,0.0781)(0.685,0.0777)(0.680,0.0776)(0.675,0.0774)(0.670,0.0775)(0.665,0.0772)(0.660,0.0771)(0.655,0.0773)(0.650,0.0775)(0.645,0.0777)(0.640,0.0776)(0.635,0.0778)(0.630,0.0776)(0.625,0.0777)(0.620,0.0778)(0.615,0.0776)(0.610,0.0778)(0.605,0.0777)(0.600,0.0778)(0.595,0.0776)(0.590,0.0777)(0.585,0.0776)(0.580,0.0778)(0.575,0.0779)(0.570,0.0781)(0.565,0.0782)(0.560,0.0778)(0.555,0.0774)(0.550,0.0772)(0.545,0.0773)(0.540,0.0771)(0.535,0.0773)(0.530,0.0772)(0.525,0.0774)(0.520,0.0772)(0.515,0.0773)(0.510,0.0771)(0.505,0.0774)(0.500,0.0772)(0.495,0.0770)(0.490,0.0772)(0.485,0.0771)(0.480,0.0770)(0.475,0.0773)(0.470,0.0771)(0.465,0.0773)(0.460,0.0771)(0.455,0.0772)(0.450,0.0773)(0.445,0.0771)(0.440,0.0773)(0.435,0.0772)(0.430,0.0773)(0.425,0.0771)(0.420,0.0772)(0.415,0.0773)(0.410,0.0772)(0.405,0.0774)(0.400,0.0772)(0.395,0.0773)(0.390,0.0770)(0.385,0.0769)(0.380,0.0767)(0.375,0.0768)(0.370,0.0766)(0.365,0.0768)(0.360,0.0767)(0.355,0.0769)(0.350,0.0773)(0.345,0.0768)(0.340,0.0766)(0.335,0.0767)(0.330,0.0765)(0.325,0.0767)(0.320,0.0766)(0.315,0.0768)(0.310,0.0767)(0.305,0.0769)(0.300,0.0768)(0.295,0.0770)(0.290,0.0772)(0.285,0.0776)(0.280,0.0778)(0.275,0.0776)(0.270,0.0777)(0.265,0.0775)(0.260,0.0778)(0.255,0.0775)(0.250,0.0773)(0.245,0.0776)(0.240,0.0774)(0.235,0.0778)(0.230,0.0782)(0.225,0.0777)(0.220,0.0775)(0.215,0.0777)(0.210,0.0774)(0.205,0.0776)(0.200,0.0781)(0.197,0.0782)(0.195,0.0775)(0.190,0.0773)(0.185,0.0776)(0.180,0.0773)(0.175,0.0770)(0.170,0.0762)(0.165,0.0765)(0.160,0.0763)(0.155,0.0767)(0.150,0.0763)(0.145,0.0766)(0.140,0.0761)(0.135,0.0765)(0.130,0.0762)(0.125,0.0767)(0.120,0.0760)(0.115,0.0764)(0.110,0.0759)(0.105,0.0763)(0.100,0.0758)(0.095,0.0766)(0.090,0.0756)(0.085,0.0760)(0.080,0.0752)(0.075,0.0760)(0.070,0.0754)(0.065,0.0758)(0.060,0.0757)(0.055,0.0752)(0.050,0.0748)(0.045,0.0751)(0.040,0.0744)(0.037,0.0748)(0.034,0.0737)(0.031,0.0742)(0.028,0.0732)(0.025,0.0740)(0.022,0.0730)(0.019,0.0737)(0.016,0.0724)(0.013,0.0735)(0.010,0.0729)(0.008,0.0738)(0.006,0.0741)(0.004,0.0759)(0.002,0.0740)(0.000,0.0741)
};
\end{axis}

\pgfresetboundingbox
\path[use as bounding box] (0,0) rectangle (916.75pt,765.75pt);
\end{tikzpicture}
\end{document}
